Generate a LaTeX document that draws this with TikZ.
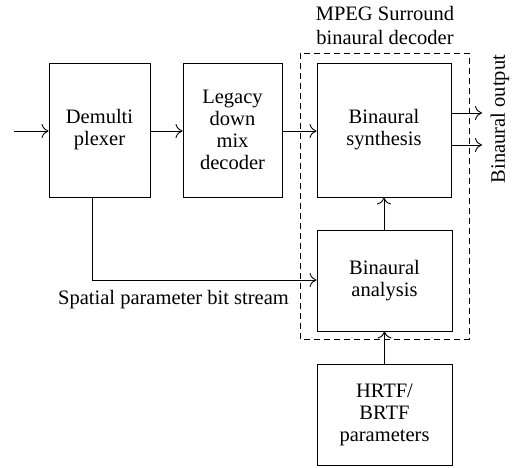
\documentclass[tikz,border=0pt]{standalone}
\usepackage{fontspec}
\setmainfont{Liberation Serif}
\usetikzlibrary{arrows.meta}
\begin{document}
\begin{tikzpicture}[x=1pt,y=-1pt,
  blk/.style={draw,line width=0.9pt,minimum width=#1,inner sep=0pt,align=center,font=\fontsize{20.5}{22}\selectfont},
  lbl/.style={inner sep=0pt,align=center,font=\fontsize{20.5}{24}\selectfont},
  conn/.style={line width=0.9pt,-{To[length=7pt,width=14pt]}},
  line/.style={line width=0.9pt}]
\useasboundingbox (0,0) rectangle (515,467);
\node[blk=101pt,minimum height=134pt] (dmx) at (99.5,130) {Demulti\\plexer};
\node[blk=99pt,minimum height=134pt] (leg) at (232.5,130) {Legacy\\down\\mix\\decoder};
\node[blk=134pt,minimum height=134pt] (syn) at (384,130) {Binaural\\synthesis};
\node[blk=135pt,minimum height=101pt] (ana) at (384.5,280.5) {Binaural\\analysis};
\node[blk=135pt,minimum height=101pt] (hrtf) at (384.5,414.5) {HRTF/\\BRTF\\parameters};
\draw[line width=0.9pt,dash pattern=on 6pt off 4pt] (300,53) rectangle (469,339);
\node[lbl] (ttl) at (385,25) {MPEG Surround\\binaural decoder};
\node[lbl,rotate=90] (out) at (500,119) {Binaural output};
\node[lbl] (spl) at (173.5,300) {Spatial parameter bit stream};
\coordinate (in) at (14,131);
\coordinate (o1) at (482,113);
\coordinate (o2) at (482,145);
\coordinate (bend) at (92,280);
\draw[conn] (in) -- (dmx.west |- in);
\draw[conn] (dmx.east |- in) -- (leg.west |- in);
\draw[conn] (leg.east |- in) -- (syn.west |- in);
\draw[conn] (syn.east |- o1) -- (o1);
\draw[conn] (syn.east |- o2) -- (o2);
\draw[conn] (ana.north -| syn.south) -- (syn.south);
\draw[conn] (hrtf.north) -- (ana.south);
\draw[conn] (dmx.south -| bend) -- (bend) -- (ana.west |- bend);
\end{tikzpicture}
\end{document}
